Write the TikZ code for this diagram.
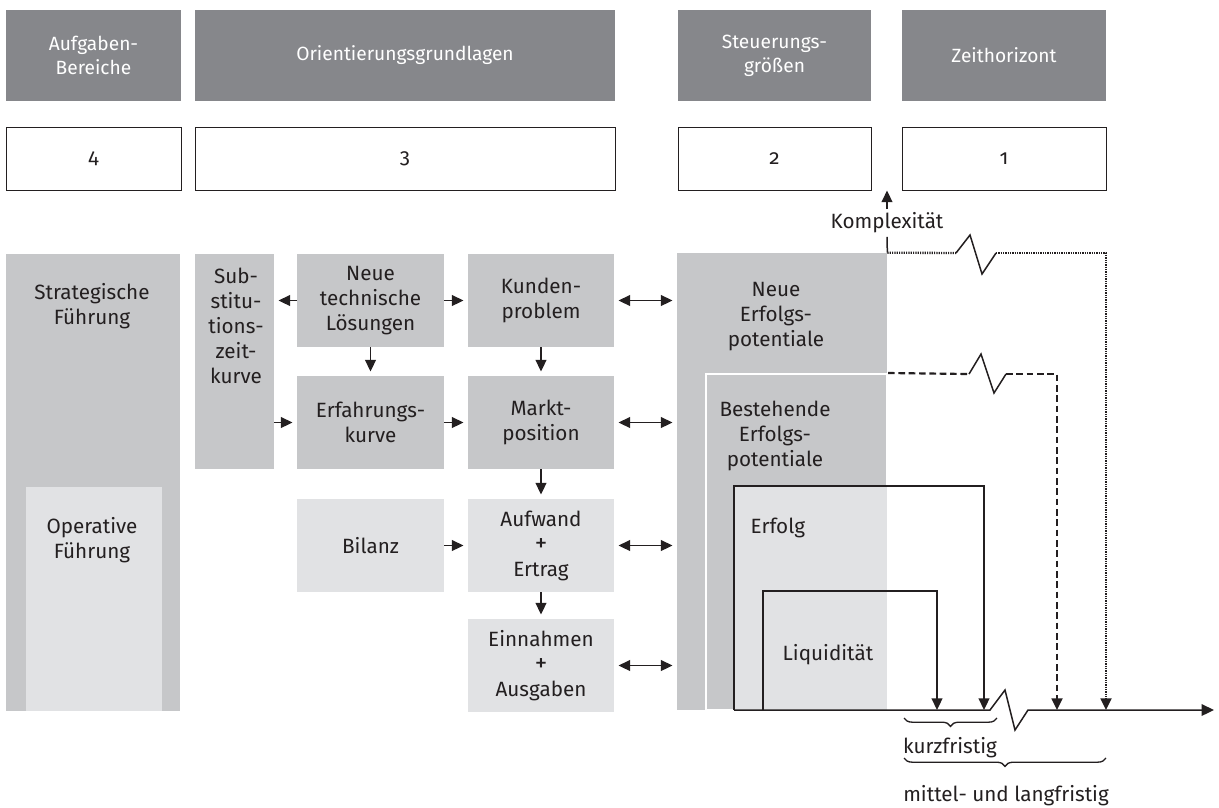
\documentclass[tikz,border=0pt]{standalone}
\usepackage{fontspec}
\setmainfont{Fira Sans}[Numbers=OldStyle]
\usetikzlibrary{arrows.meta,positioning,fit,calc,decorations.pathreplacing}
\definecolor{headgray}{HTML}{86878B}
\definecolor{midgray}{HTML}{C6C7C9}
\definecolor{palegray}{HTML}{E1E2E4}
\definecolor{ink}{HTML}{231F20}
\newcommand{\bigplus}{{\fontsize{15}{15}\selectfont +}}
\tikzset{
  headbox/.style={
    rectangle, fill=headgray, inner sep=0pt
  },
  headtext/.style={
    text=white, font=\fontsize{11.5}{14.5}\selectfont, align=center, inner sep=0pt
  },
  numbox/.style={
    rectangle, draw=ink, fill=white, line width=0.6pt, inner sep=0pt
  },
  areabox/.style={
    rectangle, fill=#1, inner sep=0pt
  },
  areabox/.default=midgray,
  plaintext/.style={
    text=ink, font=\fontsize{12.4}{15}\selectfont, align=center, inner sep=2pt
  },
  flowarrow/.style={
    -{Triangle[length=7pt,width=6.5pt]}, line width=0.9pt, color=ink
  },
  bothways/.style={
    {Triangle[length=7pt,width=6.5pt]}-{Triangle[length=7pt,width=6.5pt]},
    line width=0.9pt, color=ink, shorten <=2.5pt, shorten >=2.5pt
  },
  horizonline/.style={line width=0.9pt, color=ink},
  dotline/.style={line width=1.4pt, color=ink, dash pattern=on 0.7pt off 0.7pt},
  dashline/.style={line width=1.3pt, color=ink, dash pattern=on 4pt off 2.2pt},
  bracedeco/.style={
    decorate, decoration={brace, mirror, amplitude=5pt}, line width=0.8pt, color=ink
  },
}

\begin{document}
\begin{tikzpicture}[x=0.6pt, y=-0.6pt]
  \useasboundingbox (0,0) rectangle (1219,807);

  % Kopfzeile
  \node[headbox, fit={(6,10) (181,101)}] (hdAufg) {};
  \node[headbox, fit={(195,10) (615,101)}] (hdOrient) {};
  \node[headbox, fit={(678,10) (871,101)}] (hdSteuer) {};
  \node[headbox, fit={(902,10) (1106,101)}] (hdZeit) {};
  \node[headtext] (hdAufgTxt) at (hdAufg.center) {Aufgaben-\\Bereiche};
  \node[headtext] (hdOrientTxt) at (hdOrient.center) {Orientierungsgrundlagen};
  \node[headtext] (hdSteuerTxt) at (hdSteuer.center) {Steuerungs-\\größen};
  \node[headtext] (hdZeitTxt) at (hdZeit.center) {Zeithorizont};

  % Nummern
  \node[numbox, fit={(6,127) (181,190)}] (num4) {};
  \node[numbox, fit={(195,127) (615,190)}] (num3) {};
  \node[numbox, fit={(678,127) (871,190)}] (num2) {};
  \node[numbox, fit={(902,127) (1106,190)}] (num1) {};
  \foreach \n in {1,...,4}
    \node[plaintext] (num\n Txt) at (num\n.center) {\n};

  % Aufgabenbereiche
  \node[areabox, fit={(6,254) (180,711)}] (strat) {};
  \node[plaintext] (stratTxt) at (92,306) {Strategische\\Führung};
  \node[areabox=palegray, fit={(26,487) (162,711)}] (oper) {};
  \node[plaintext] (operTxt) at (92,540) {Operative\\Führung};

  % Orientierungsgrundlagen
  \node[areabox, fit={(195,254) (274,469)}] (subst) {};
  \node[areabox, fit={(297,254) (444,347)}] (techn) {};
  \node[areabox, fit={(468,254) (614,347)}] (kunden) {};
  \node[areabox, fit={(297,376) (444,469)}] (erfahr) {};
  \node[areabox, fit={(468,376) (614,469)}] (markt) {};
  \node[areabox=palegray, fit={(297,499) (444,592)}] (bilanz) {};
  \node[areabox=palegray, fit={(468,499) (614,592)}] (aufwand) {};
  \node[areabox=palegray, fit={(468,619) (614,712)}] (einnahm) {};

  \node[plaintext] (substTxt) at (236,326) {Sub-\\stitu-\\tions-\\zeit-\\kurve};
  \node[plaintext] (technTxt) at (techn.center) {Neue\\technische\\Lösungen};
  \node[plaintext] (kundenTxt) at (kunden.center) {Kunden-\\problem};
  \node[plaintext] (erfahrTxt) at (erfahr.center) {Erfahrungs-\\kurve};
  \node[plaintext] (marktTxt) at (markt.center) {Markt-\\position};
  \node[plaintext] (bilanzTxt) at (bilanz.center) {Bilanz};
  \node[plaintext] (aufwandTxt) at (aufwand.center) {Aufwand\\\bigplus\\Ertrag};
  \node[plaintext] (einnahmTxt) at (einnahm.center) {Einnahmen\\\bigplus\\Ausgaben};

  \draw[flowarrow, shorten >=2.5pt] (techn.west) -- (techn.west -| subst.east);
  \draw[flowarrow, shorten >=2.5pt] (techn) -- (kunden);
  \draw[flowarrow, shorten >=2.5pt] (techn) -- (erfahr);
  \draw[flowarrow, shorten >=2.5pt] (kunden) -- (markt);
  \draw[flowarrow, shorten >=2.5pt] (erfahr.west -| subst.east) -- (erfahr.west);
  \draw[flowarrow, shorten >=2.5pt] (erfahr) -- (markt);
  \draw[flowarrow, shorten >=2.5pt] (markt) -- (aufwand);
  \draw[flowarrow, shorten >=2.5pt] (bilanz) -- (aufwand);
  \draw[flowarrow, shorten >=2.5pt] (aufwand) -- (einnahm);

  % Steuerungsgroessen
  \node[areabox, fit={(677,253) (887,710)}] (neuEP) {};
  \node[areabox, draw=white, line width=1.2pt, fit={(706,374) (887,710)}] (bestEP) {};
  \fill[palegray] (734,486) rectangle (887,710);
  \node[plaintext] (neuTxt) at (776,317) {Neue\\Erfolgs-\\potentiale};
  \node[plaintext] (bestTxt) at (775,436) {Bestehende\\Erfolgs-\\potentiale};
  \node[plaintext, anchor=west] (erfolgTxt) at (747,528) {Erfolg};
  \node[plaintext, anchor=west] (liquTxt) at (779,655) {Liquidität};

  \foreach \src in {kunden, markt, aufwand, einnahm}
    \draw[bothways] (\src.east) -- (\src.east -| neuEP.west);

  % Zeithorizont
  \coordinate (axStart) at (734,710);
  \coordinate (axEnd) at (1214,710);
  \coordinate (dotEnd) at (1106,710);
  \coordinate (dashEnd) at (1057,710);
  \node[plaintext] (komplex) at (887,223) {Komplexität};
  \draw[flowarrow] (komplex.north) -- (komplex.north |- num2.south);
  \draw[horizonline] (neuEP.north east) -- (komplex.south);

  \draw[dotline] (neuEP.north east) -- (956,253);
  \draw[horizonline] (956,253) -- (970,235) -- (982,274) -- (996,253);
  \draw[dotline, -{Triangle[length=7pt,width=6.5pt]}] (996,253) -- (1106,253) -- (dotEnd);

  \draw[dashline] (bestEP.north east) -- (969,374);
  \draw[horizonline] (969,374) -- (981,354) -- (994,393) -- (1006,374);
  \draw[dashline, -{Triangle[length=7pt,width=6.5pt]}] (1006,374) -- (1057,374) -- (dashEnd);

  \draw[horizonline, -{Triangle[length=7pt,width=6.5pt]}]
    (axStart) -- (734,486) -- (984,486) -- (984,710);
  \draw[horizonline, -{Triangle[length=7pt,width=6.5pt]}]
    (763,710) -- (763,591) -- (937,591) -- (937,710);
  \draw[horizonline, -{Triangle[length=7.5pt,width=7pt]}]
    (axStart) -- (990,710) -- (1005,690) -- (1015,730) -- (1028,710) -- (axEnd);

  \draw[bracedeco] (904,718) -- (997,718);
  \node[plaintext] (kurzTxt) at (950,748) {kurzfristig};
  \draw[bracedeco] (904,758) -- (1106,758);
  \node[plaintext] (langTxt) at (1006,796) {mittel- und langfristig};
\end{tikzpicture}
\end{document}
